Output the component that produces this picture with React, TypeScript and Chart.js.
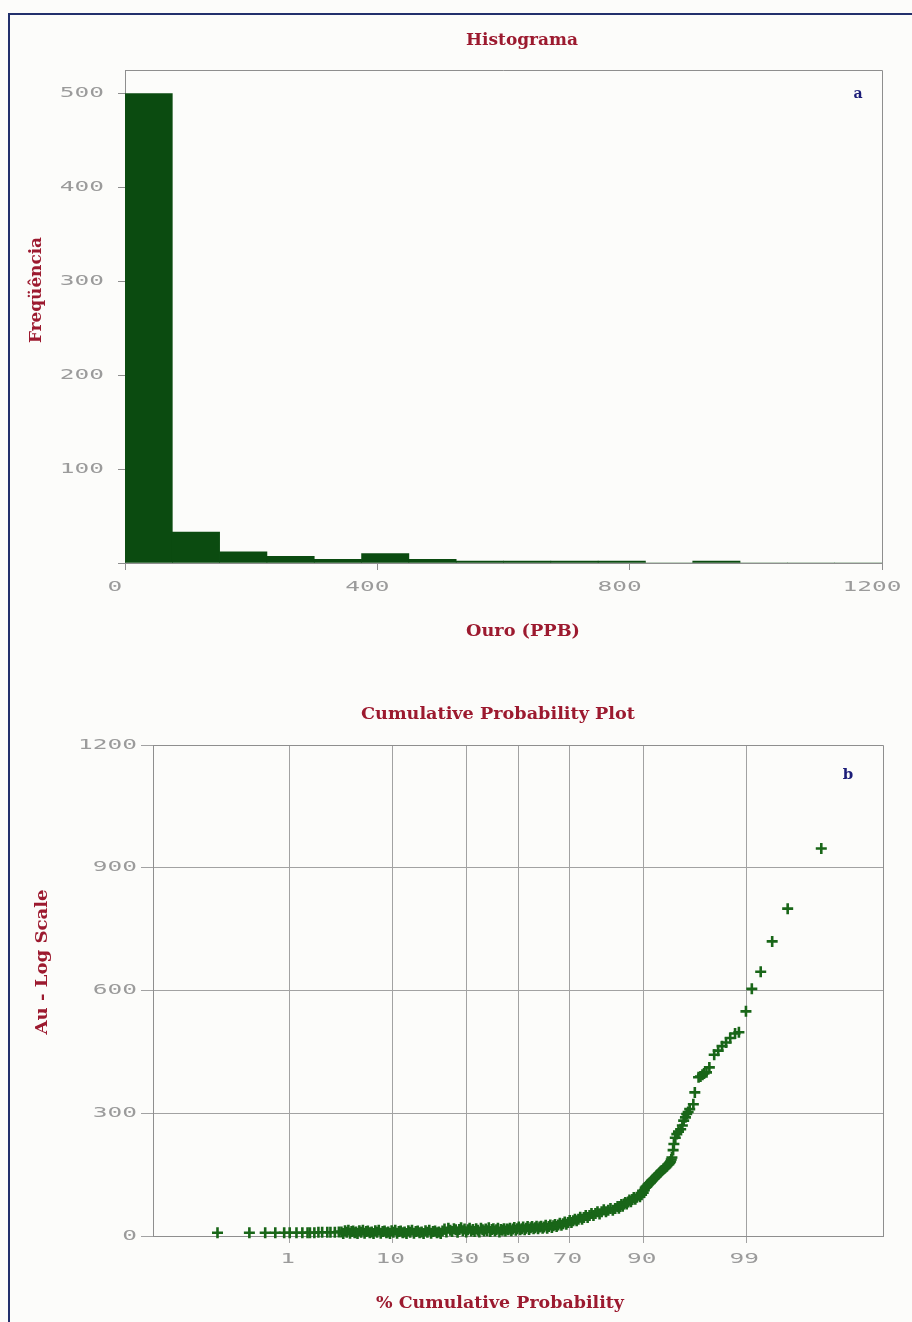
import React, { useEffect, useRef } from 'react';
import { Chart, registerables } from 'chart.js';

Chart.register(...registerables);

// ---- Histogram (Ouro, PPB) ----
const binStarts = [0, 75, 150, 225, 300, 375, 450, 525, 600, 675, 750, 825, 900, 975, 1050, 1125];
const binCounts = [500, 33, 12, 7, 4, 10, 4, 2, 2, 2, 2, 0, 2, 0, 0, 0];
const binWidth = 75;
const histXTicks = [0, 400, 800, 1200];
const histYTicks = [0, 100, 200, 300, 400, 500];

// ---- Cumulative probability plot (Au) ----
// Lower tail, isolated samples
const tailPercent = [0.11, 0.31, 0.5, 0.67, 0.86, 1.0, 1.2, 1.4, 1.6, 1.7, 1.9, 2.1, 2.3, 2.6, 2.8, 3.1, 3.4];
const tailAu = [8, 8, 8, 8, 8, 8, 8, 8, 8, 8, 8, 9, 9, 9, 9, 9, 10];

// Low background band
const lowPercent = [
  3.6, 3.75, 3.9, 4.05, 4.2, 4.35, 4.5, 4.65, 4.8, 4.95,
  5.1, 5.3, 5.5, 5.7, 5.9, 6.1, 6.3, 6.55, 6.8, 7.05,
  7.3, 7.55, 7.8, 8.1, 8.4, 8.7, 9.0, 9.3, 9.6, 9.9,
  10.2, 10.55, 10.9, 11.25, 11.6, 12.0, 12.4, 12.8, 13.2, 13.6,
  14.0, 14.45, 14.9, 15.35, 15.8, 16.3, 16.8, 17.3, 17.8, 18.3,
  18.8, 19.35, 19.9, 20.45, 21.0, 21.55,
];
const lowAu = [
  10, 6, 13, 9, 14, 7, 11, 12, 8, 10,
  6, 13, 9, 14, 7, 11, 12, 8, 10, 6,
  13, 9, 14, 7, 11, 12, 8, 10, 6, 13,
  9, 14, 7, 11, 12, 8, 10, 6, 13, 9,
  14, 7, 11, 12, 8, 10, 6, 13, 9, 14,
  7, 11, 12, 8, 10, 6,
];

// Middle band
const midPercent = [
  22.1, 22.7, 23.3, 23.9, 24.5, 25.1, 25.7, 26.3, 26.9, 27.5,
  28.1, 28.7, 29.3, 29.9, 30.5, 31.1, 31.7, 32.3, 32.9, 33.5,
  34.1, 34.7, 35.3, 35.9, 36.5, 37.1, 37.7, 38.3, 38.9, 39.5,
  40.1, 40.7, 41.3, 41.9, 42.5, 43.1, 43.7, 44.3, 44.9, 45.5,
  46.1, 46.7, 47.3, 47.9,
];
const midAu = [
  12, 17, 10, 19, 14, 11, 18, 15, 9, 16,
  20, 13, 17, 10, 15, 19, 12, 16, 11, 18,
  14, 10, 19, 15, 12, 17, 13, 20, 11, 16,
  18, 12, 15, 19, 10, 16, 14, 18, 12, 17,
  15, 19, 13, 17,
];

// Rising band up to ~90 %
const risePercent = [
  48.5, 49.1, 49.7, 50.3, 50.9, 51.5, 52.1, 52.7, 53.3, 53.9,
  54.5, 55.1, 55.7, 56.3, 56.9, 57.5, 58.1, 58.7, 59.3, 59.9,
  60.5, 61.1, 61.7, 62.3, 62.9, 63.5, 64.1, 64.7, 65.3, 65.9,
  66.5, 67.1, 67.7, 68.3, 68.9, 69.5, 70.1, 70.7, 71.3, 71.9,
  72.5, 73.1, 73.7, 74.3, 74.9, 75.5, 76.1, 76.7, 77.3, 77.9,
  78.5, 79.1, 79.7, 80.3, 80.9, 81.5, 82.1, 82.7, 83.3, 83.9,
  84.5, 84.8, 85.1, 85.4, 85.7, 86.0, 86.3, 86.6, 86.9, 87.2,
  87.5, 87.8, 88.1, 88.4, 88.7, 89.0, 89.3, 89.6, 89.9,
];
const riseAu = [
  21, 14, 18, 22, 15, 18, 22, 15, 19, 23,
  16, 20, 23, 18, 20, 24, 18, 22, 24, 19,
  22, 26, 19, 23, 27, 21, 25, 28, 23, 27,
  31, 26, 30, 34, 29, 33, 38, 33, 37, 41,
  37, 41, 46, 41, 45, 50, 45, 50, 55, 50,
  55, 59, 54, 59, 64, 59, 63, 67, 63, 67,
  72, 68, 72, 77, 73, 78, 82, 78, 83, 88,
  84, 89, 94, 90, 95, 100, 96, 101, 106,
];

// Upper tail, > 90 %
const upperPercent = [
  90.1, 90.25, 90.4, 90.55, 90.7, 90.85, 91.0, 91.15, 91.3, 91.5,
  91.7, 91.88, 92.05, 92.2, 92.4, 92.61, 92.75, 92.9, 93.1, 93.28,
  93.42, 93.55, 93.68, 93.8, 93.9, 94.0, 94.08, 94.16, 94.3, 94.39,
  94.55, 94.72, 94.9, 95.13, 95.3, 95.43, 95.6, 95.72, 95.85, 95.99,
  96.3, 96.42, 96.71, 96.85, 96.99, 97.1, 97.26, 97.44, 97.72, 97.93,
  98.12, 98.3, 98.47, 98.65, 98.78, 98.99, 99.14, 99.33, 99.52, 99.7,
  99.9,
];
const upperAu = [
  112, 118, 120, 122, 125, 127, 129, 131, 134, 137,
  140, 143, 146, 149, 152, 155, 158, 160, 164, 167,
  169, 171, 174, 176, 179, 182, 187, 192, 210, 225,
  240, 249, 255, 261, 270, 282, 290, 298, 303, 310,
  322, 351, 388, 390, 394, 397, 400, 412, 443, 453,
  464, 473, 484, 495, 498, 549, 604, 646, 720, 800,
  947,
];

const cumPercent = [...tailPercent, ...lowPercent, ...midPercent, ...risePercent, ...upperPercent];
const auValues = [...tailAu, ...lowAu, ...midAu, ...riseAu, ...upperAu];

const probTicks = [1, 10, 30, 50, 70, 90, 99];
const probRange = [0.01, 99.99];
const auTicks = [0, 300, 600, 900, 1200];

const TITLE_RED = '#9c1a2f';
const NAVY = '#1c1d78';
const TICK_GREY = '#9b9b9b';
const AXIS_GREY = '#8e8e8e';
const BAR_GREEN = '#0b4b10';
const MARK_GREEN = '#196618';
const SERIF = 'bold 16px "DejaVu Serif"';
const MONO = '14px "DejaVu Sans Mono"';

// Normal quantile (probability-paper axis), Acklam's rational approximation.
function probit(p: number): number {
  const a = [-39.69683028665376, 220.9460984245205, -275.9285104469687, 138.357751867269, -30.66479806614716, 2.506628277459239];
  const b = [-54.47609879822406, 161.5858368580409, -155.6989798598866, 66.80131188771972, -13.28068155288572];
  const c = [-0.007784894002430293, -0.3223964580411365, -2.400758277161838, -2.549732539343734, 4.374664141464968, 2.938163982698783];
  const d = [0.007784695709041462, 0.3224671290700398, 2.445134137142996, 3.754408661907416];
  const plow = 0.02425;
  if (p < plow) {
    const q = Math.sqrt(-2 * Math.log(p));
    return (((((c[0] * q + c[1]) * q + c[2]) * q + c[3]) * q + c[4]) * q + c[5]) /
      ((((d[0] * q + d[1]) * q + d[2]) * q + d[3]) * q + 1);
  }
  if (p > 1 - plow) {
    const q = Math.sqrt(-2 * Math.log(1 - p));
    return -(((((c[0] * q + c[1]) * q + c[2]) * q + c[3]) * q + c[4]) * q + c[5]) /
      ((((d[0] * q + d[1]) * q + d[2]) * q + d[3]) * q + 1);
  }
  const q = p - 0.5;
  const r = q * q;
  return (((((a[0] * r + a[1]) * r + a[2]) * r + a[3]) * r + a[4]) * r + a[5]) * q /
    (((((b[0] * r + b[1]) * r + b[2]) * r + b[3]) * r + b[4]) * r + 1);
}

type TextOpts = {
  font: string;
  color: string;
  width?: number;
  sx?: number;
  align?: 'left' | 'center' | 'right';
  baseline?: CanvasTextBaseline;
  rotate?: boolean;
};

// Text painter with optional horizontal stretch (fixed target width or scale factor).
function paintText(ctx: CanvasRenderingContext2D, text: string, x: number, y: number, o: TextOpts) {
  ctx.save();
  ctx.font = o.font;
  ctx.fillStyle = o.color;
  ctx.textBaseline = o.baseline ?? 'alphabetic';
  ctx.textAlign = 'left';
  const raw = ctx.measureText(text).width;
  const sx = o.width ? o.width / raw : (o.sx ?? 1);
  const w = raw * sx;
  const align = o.align ?? 'center';
  const shift = align === 'center' ? -w / 2 : align === 'right' ? -w : 0;
  ctx.translate(x, y);
  if (o.rotate) ctx.rotate(-Math.PI / 2);
  ctx.translate(shift, 0);
  ctx.scale(sx, 1);
  ctx.fillText(text, 0, 0);
  ctx.restore();
}

function strokeBoxTopRight(chart: any) {
  const { ctx, chartArea } = chart;
  ctx.save();
  ctx.strokeStyle = AXIS_GREY;
  ctx.lineWidth = 1;
  ctx.beginPath();
  ctx.moveTo(chartArea.left, chartArea.top + 0.5);
  ctx.lineTo(chartArea.right + 0.5, chartArea.top + 0.5);
  ctx.lineTo(chartArea.right + 0.5, chartArea.bottom);
  ctx.stroke();
  ctx.restore();
}

const histDecor = {
  id: 'histDecor',
  afterDraw(chart: any) {
    const ctx = chart.ctx as CanvasRenderingContext2D;
    const x = chart.scales.x;
    const y = chart.scales.y;
    strokeBoxTopRight(chart);
    const tickFont = { font: MONO, color: TICK_GREY, sx: 1.75, baseline: 'middle' as CanvasTextBaseline };
    y.ticks.forEach((t: any) => {
      if (t.value === 0) return;
      paintText(ctx, String(t.value), 104, y.getPixelForValue(t.value), { ...tickFont, align: 'right' });
    });
    x.ticks.forEach((t: any) => {
      paintText(ctx, String(t.value), x.getPixelForValue(t.value) - 10, 587, { ...tickFont, align: 'center' });
    });
    paintText(ctx, 'Histograma', 522, 45, { font: SERIF, color: TITLE_RED, width: 112 });
    paintText(ctx, 'Ouro (PPB)', 523, 636, { font: SERIF, color: TITLE_RED, width: 114 });
    paintText(ctx, 'Freqüência', 41, 290, { font: SERIF, color: TITLE_RED, width: 106, rotate: true });
    paintText(ctx, 'a', 858, 98, { font: 'bold 14px "DejaVu Serif"', color: NAVY });
  },
};

const cumDecor = {
  id: 'cumDecor',
  afterDraw(chart: any) {
    const ctx = chart.ctx as CanvasRenderingContext2D;
    const x = chart.scales.x;
    const y = chart.scales.y;
    strokeBoxTopRight(chart);
    const tickFont = { font: MONO, color: TICK_GREY, sx: 1.75, baseline: 'middle' as CanvasTextBaseline };
    y.ticks.forEach((t: any) => {
      paintText(ctx, String(t.value), 137, y.getPixelForValue(t.value), { ...tickFont, align: 'right' });
    });
    x.ticks.forEach((t: any, i: number) => {
      paintText(ctx, String(probTicks[i]), x.getPixelForValue(t.value) - 2, 599, { ...tickFont, align: 'center' });
    });
    paintText(ctx, 'Cumulative Probability Plot', 498, 59, { font: SERIF, color: TITLE_RED, width: 274 });
    paintText(ctx, '% Cumulative Probability', 500, 648, { font: SERIF, color: TITLE_RED, width: 248 });
    paintText(ctx, 'Au - Log Scale', 47, 302, { font: SERIF, color: TITLE_RED, width: 145, rotate: true });
    paintText(ctx, 'b', 848, 119, { font: 'bold 15px "DejaVu Serif"', color: NAVY });
  },
};

function HistogramChart() {
  const ref = useRef<HTMLCanvasElement | null>(null);
  useEffect(() => {
    if (!ref.current) return;
    const chart = new Chart(ref.current, {
      type: 'bar',
      data: {
        datasets: [
          {
            data: binStarts.map((s, i) => ({ x: s + binWidth / 2, y: binCounts[i] })),
            backgroundColor: BAR_GREEN,
            borderWidth: 0,
            barPercentage: 1,
            categoryPercentage: 1,
          },
        ],
      },
      options: {
        responsive: false,
        animation: false,
        devicePixelRatio: 1,
        layout: { padding: { top: 70, right: 30, left: 0, bottom: 0 } },
        plugins: { legend: { display: false }, title: { display: false }, tooltip: { enabled: false } },
        scales: {
          x: {
            type: 'linear',
            min: 0,
            max: 1200,
            offset: false,
            grid: { display: true, drawOnChartArea: false, drawTicks: true, tickLength: 7, color: AXIS_GREY, offset: false },
            border: { display: true, color: AXIS_GREY },
            ticks: { display: false },
            afterBuildTicks: (s: any) => { s.ticks = histXTicks.map((v) => ({ value: v })); },
            afterFit: (s: any) => { s.height = 97; },
          },
          y: {
            type: 'linear',
            min: 0,
            max: 525,
            grid: { display: true, drawOnChartArea: false, drawTicks: true, tickLength: 7, color: AXIS_GREY },
            border: { display: true, color: AXIS_GREY },
            ticks: { display: false },
            afterBuildTicks: (s: any) => { s.ticks = histYTicks.map((v) => ({ value: v })); },
            afterFit: (s: any) => { s.width = 125; },
          },
        },
      } as any,
      plugins: [histDecor],
    });
    return () => chart.destroy();
  }, []);
  return <canvas ref={ref} width={912} height={660} style={{ position: 'absolute', left: 0, top: 0 }} />;
}

function CumulativeChart() {
  const ref = useRef<HTMLCanvasElement | null>(null);
  useEffect(() => {
    if (!ref.current) return;
    const chart = new Chart(ref.current, {
      type: 'scatter',
      data: {
        datasets: [
          {
            data: cumPercent.map((p, i) => ({ x: probit(p / 100), y: auValues[i] })),
            pointStyle: 'cross',
            pointRadius: 5.5,
            pointBorderWidth: 2.6,
            borderColor: MARK_GREEN,
            backgroundColor: MARK_GREEN,
            clip: false,
          },
        ],
      },
      options: {
        responsive: false,
        animation: false,
        devicePixelRatio: 1,
        layout: { padding: { top: 85, right: 29, left: 0, bottom: 0 } },
        plugins: { legend: { display: false }, title: { display: false }, tooltip: { enabled: false } },
        scales: {
          x: {
            type: 'linear',
            min: probit(probRange[0] / 100),
            max: probit(probRange[1] / 100),
            grid: { display: true, drawOnChartArea: true, drawTicks: true, tickLength: 7, color: '#a2a2a2' },
            border: { display: true, color: AXIS_GREY },
            ticks: { display: false },
            afterBuildTicks: (s: any) => { s.ticks = probTicks.map((p) => ({ value: probit(p / 100) })); },
            afterFit: (s: any) => { s.height = 86; },
          },
          y: {
            type: 'linear',
            min: 0,
            max: 1200,
            grid: { display: true, drawOnChartArea: true, drawTicks: true, tickLength: 12, color: '#a2a2a2' },
            border: { display: true, color: AXIS_GREY },
            ticks: { display: false },
            afterBuildTicks: (s: any) => { s.ticks = auTicks.map((v) => ({ value: v })); },
            afterFit: (s: any) => { s.width = 153; },
          },
        },
      } as any,
      plugins: [cumDecor],
    });
    return () => chart.destroy();
  }, []);
  return <canvas ref={ref} width={912} height={662} style={{ position: 'absolute', left: 0, top: 660 }} />;
}

export default function App() {
  return (
    <div
      style={{
        position: 'absolute',
        left: 0,
        top: 0,
        width: 912,
        height: 1322,
        background: '#fcfcfa',
        overflow: 'hidden',
      }}
    >
      <HistogramChart />
      <CumulativeChart />
      <div style={{ position: 'absolute', left: 8, top: 13, width: 2, height: 1309, background: '#22306c' }} />
      <div style={{ position: 'absolute', left: 8, top: 13, width: 904, height: 2, background: '#22306c' }} />
    </div>
  );
}
